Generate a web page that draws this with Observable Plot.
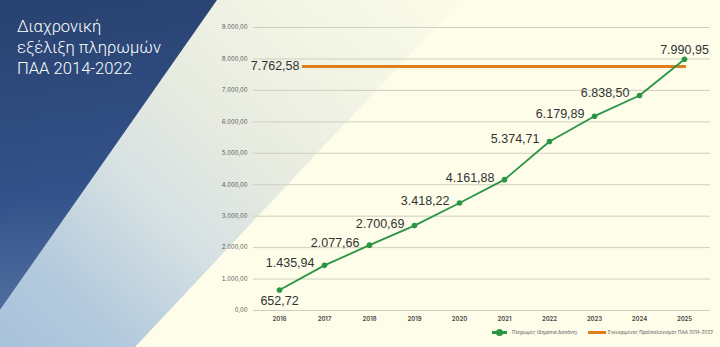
<!DOCTYPE html>
<html><head><meta charset="utf-8">
<script src="https://cdn.jsdelivr.net/npm/d3@7"></script>
<script src="https://cdn.jsdelivr.net/npm/@observablehq/plot@0.6"></script>
<style>
html,body{margin:0;padding:0;background:#fdfde9;}
#wrap{position:relative;width:720px;height:347px;overflow:hidden;background:#fdfde9;font-family:Inter,"Noto Sans",sans-serif;}
.bg{position:absolute;left:0;top:0;width:720px;height:347px;}
#band{clip-path:polygon(217px 0,461px 0,135px 347px,0 347px,0 310px);background:linear-gradient(43deg,#a8c2dc 0%,#b4cadd 12%,#d6e1e3 28%,#e7ebe0 42%,#f3f5e5 60%,#fbfbe8 76%,#fdfde9 100%);}
#dark{clip-path:polygon(0 0,217px 0,0 310px);background:linear-gradient(172deg,#28426f 0%,#33528a 45%,#7192ba 100%);}
#title{position:absolute;left:17px;top:16px;color:#fff;font-family:Roboto,sans-serif;font-weight:300;font-size:16.6px;line-height:21px;white-space:nowrap;}
#chart{position:absolute;left:0;top:0;}
#chart g[aria-label="labels"] text, #chart g[aria-label="budget-label"] text{letter-spacing:-0.3px;}
.lg{position:absolute;font-size:4.6px;color:#555;white-space:nowrap;line-height:6px;}
.sw{position:absolute;height:3px;}
.dt{position:absolute;width:7px;height:7px;border-radius:50%;}
</style>
</head><body>
<div id="wrap">
  <div class="bg" id="band"></div>
  <div class="bg" id="dark"></div>
  <div id="chart"></div>
  <div id="title"></div>
  <div id="legend"></div>
</div>
<script>
const titleLines = ["Διαχρονική", "εξέλιξη πληρωμών", "ΠΑΑ 2014-2022"];
const years = ["2016","2017","2018","2019","2020","2021","2022","2023","2024","2025"];
const payments = [652.72, 1435.94, 2077.66, 2700.69, 3418.22, 4161.88, 5374.71, 6179.89, 6838.50, 7990.95];
const budget = [7762.58];
const yTicks = [0,1000,2000,3000,4000,5000,6000,7000,8000,9000];
const seriesNames = ["Πληρωμές (Δημόσια Δαπάνη)", "Εγκεκριμένος Προϋπολογισμός ΠΑΑ 2014-2022"];
const colors = ["#2b9546", "#de7f1c"];

document.getElementById("title").innerHTML = titleLines.join("<br>");

const loc = d3.formatLocale({decimal: ",", thousands: ".", grouping: [3], currency: ["", "€"]});
const fmt = loc.format(",.2f");
const data = years.map((y, i) => ({year: y, value: payments[i], i}));
const last = years.length - 1;
const labelFont = "'Liberation Sans', Arial, sans-serif";

const chart = Plot.plot({
  width: 720, height: 347,
  marginLeft: 253, marginRight: 10, marginTop: 27, marginBottom: 37,
  style: {background: "transparent", overflow: "visible", fontFamily: "Inter, 'Noto Sans', sans-serif"},
  x: {type: "point", domain: years, padding: 0.5, label: null},
  y: {domain: [0, 9000], label: null},
  marks: [
    Plot.gridY(yTicks, {stroke: "#cfcfbf", strokeOpacity: 1, strokeWidth: 1}),
    Plot.axisY(yTicks, {tickSize: 0, tickPadding: 6, tickFormat: fmt, fontSize: 5.8, fill: "#555", label: null}),
    Plot.axisX({tickSize: 0, tickPadding: 6, fontSize: 6, fontWeight: 600, fill: "#444", label: null}),
    Plot.ruleY(budget, {x1: () => years[0], x2: () => years[last], insetLeft: 23, insetRight: -2, stroke: colors[1], strokeWidth: 3}),
    Plot.text(budget, {x: () => years[0], y: d => d, text: d => fmt(d), textAnchor: "end", dx: 20, fontSize: 12.5, fontFamily: labelFont, fill: "#333", ariaLabel: "budget-label"}),
    Plot.line(data, {x: "year", y: "value", stroke: colors[0], strokeWidth: 1.8}),
    Plot.dot(data, {x: "year", y: "value", r: 2.8, fill: colors[0]}),
    Plot.text(data.filter(d => d.i > 0 && d.i < last), {x: "year", y: "value", text: d => fmt(d.value), textAnchor: "end", dx: -10, dy: -2, fontSize: 12.5, fontFamily: labelFont, fill: "#333", ariaLabel: "labels"}),
    Plot.text(data.filter(d => d.i === 0), {x: "year", y: "value", text: d => fmt(d.value), textAnchor: "middle", dy: 11, fontSize: 12.5, fontFamily: labelFont, fill: "#333", ariaLabel: "labels"}),
    Plot.text(data.filter(d => d.i === last), {x: "year", y: "value", text: d => fmt(d.value), textAnchor: "middle", dy: -9, fontSize: 12.5, fontFamily: labelFont, fill: "#333", ariaLabel: "labels"})
  ]
});
document.getElementById("chart").appendChild(chart);

const lg = document.getElementById("legend");
lg.innerHTML =
  `<div class="sw" style="left:492px;top:331px;width:15px;background:${colors[0]}"></div>` +
  `<div class="dt" style="left:496px;top:329px;background:${colors[0]}"></div>` +
  `<div class="lg" style="left:512px;top:329.5px">${seriesNames[0]}</div>` +
  `<div class="sw" style="left:588px;top:331px;width:18px;background:${colors[1]}"></div>` +
  `<div class="lg" style="left:608px;top:329.5px">${seriesNames[1]}</div>`;
</script>
</body></html>
